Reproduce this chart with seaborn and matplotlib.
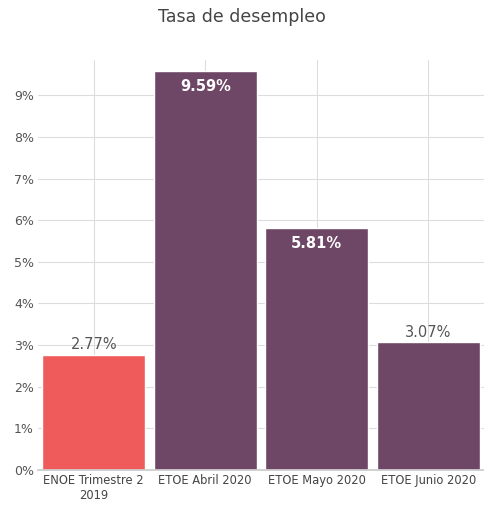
import matplotlib
matplotlib.use("Agg")
import matplotlib.pyplot as plt
import seaborn as sns
import pandas as pd

categorias = ["ENOE Trimestre 2\n2019", "ETOE Abril 2020", "ETOE Mayo 2020", "ETOE Junio 2020"]
tasas = [2.77, 9.59, 5.81, 3.07]
colores = ["#EF5B5B", "#6E4766", "#6E4766", "#6E4766"]
ticks = [0, 1, 2, 3, 4, 5, 6, 7, 8, 9]

sns.set_theme(style="white")
plt.rcParams["font.family"] = ["Liberation Sans Narrow", "DejaVu Sans"]

df = pd.DataFrame({"cat": categorias, "tasa": tasas})

fig = plt.figure(figsize=(4.84, 5.2), dpi=100)
ax = fig.add_axes([0.0785, 0.096, 0.9215, 0.789])

sns.barplot(data=df, x="cat", y="tasa", hue="cat", palette=colores,
            width=0.92, saturation=1, legend=False, ax=ax, zorder=2)

# grid behind bars, both directions
ax.set_axisbelow(True)
ax.grid(True, axis="both", color="#DDDDDD", linewidth=0.8, zorder=0)

ax.set_ylim(0, 9.85)
ax.set_yticks(ticks)
ax.set_yticklabels([f"{t}%" for t in ticks])
ax.set_xlabel("")
ax.set_ylabel("")
ax.tick_params(axis="y", colors="#555555", labelsize=9, length=0, pad=3)
ax.tick_params(axis="x", colors="#444444", labelsize=8.3, length=0, pad=3)
for s in ["top", "right", "left"]:
    ax.spines[s].set_visible(False)
ax.spines["bottom"].set_color("#CCCCCC")

for i, v in enumerate(tasas):
    if v > 5:
        ax.text(i, v - 0.2, f"{v:.2f}%", ha="center", va="top",
                color="white", fontsize=10.5, fontweight="bold", zorder=3)
    else:
        ax.text(i, v + 0.06, f"{v:.2f}%", ha="center", va="bottom",
                color="#555555", fontsize=10.5, zorder=3)

fig.suptitle("Tasa de desempleo", y=0.985, fontsize=12.5, color="#444444")

fig.savefig("out.png", dpi=100)
